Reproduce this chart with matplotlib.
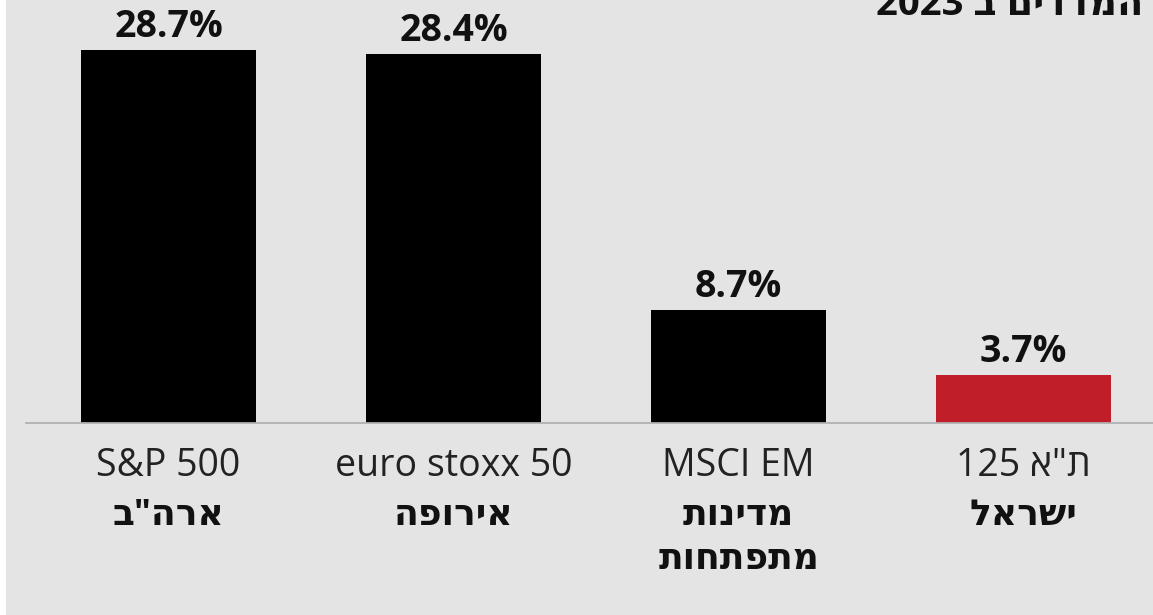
import re
import matplotlib.pyplot as plt
from matplotlib.patches import Rectangle

plt.rcParams['font.family'] = ['Open Sans', 'DejaVu Sans']

# data
index_names = ['S&P 500', 'euro stoxx 50', 'MSCI EM', 'ת"א 125']
regions = ['ארה"ב', 'אירופה', 'מדינות\nמתפתחות', 'ישראל']
returns = [28.7, 28.4, 8.7, 3.7]
bar_colors = ['#000000', '#000000', '#000000', '#c01f2a']
title = 'המדדים ב 2023'


def visual(s):
    # matplotlib draws left to right, so flip the hebrew by hand
    if not re.search('[\u0590-\u05ff]', s):
        return s
    out = []
    for line in s.split('\n'):
        parts = re.split(r'([0-9A-Za-z&]+)', line)
        parts = [p if re.fullmatch(r'[0-9A-Za-z&]+', p) else p[::-1] for p in parts if p]
        out.append(''.join(parts[::-1]))
    return '\n'.join(out)


fig = plt.figure(figsize=(11.53, 6.15), dpi=100, facecolor='white')
fig.patches.append(Rectangle((6 / 1153, 0), 1, 1, transform=fig.transFigure,
                             facecolor='#e4e4e4', edgecolor='none', zorder=-10))

ax = fig.add_axes([26 / 1153, 192 / 615, 1 - 26 / 1153, 423 / 615])
ax.set_facecolor('none')
ax.set_zorder(1)

x = list(range(len(returns)))
bars = ax.bar(x, returns, width=0.614, color=bar_colors, zorder=2)
ax.set_xlim(-0.5, 3.454)
ax.set_ylim(0, 32.54)

for s in ['top', 'left', 'right']:
    ax.spines[s].set_visible(False)
ax.spines['bottom'].set_color('#b0b0b0')
ax.spines['bottom'].set_linewidth(1.3)
ax.set_xticks([])
ax.set_yticks([])

for xi, v in zip(x, returns):
    ax.annotate(f'{v}%', (xi, v), xytext=(0, 9.5), textcoords='offset points',
                ha='center', va='baseline', fontsize=27, fontweight='bold',
                color='#111111')

for xi, name, reg in zip(x, index_names, regions):
    ax.annotate(visual(name), (xi, 0), xytext=(0, -31), textcoords='offset points',
                ha='center', va='center', fontsize=27, color='#222222',
                annotation_clip=False)
    ax.annotate(visual(reg), (xi, 0), xytext=(0, -54), textcoords='offset points',
                ha='center', va='top', fontsize=26, fontweight='bold',
                color='#111111', linespacing=1.3, annotation_clip=False)

fig.text(1143 / 1153, 1 - 15 / 615, visual(title), ha='right', va='baseline',
         fontsize=27.5, fontweight='bold', color='#111111', zorder=2)

fig.savefig('out.png', dpi=100, facecolor=fig.get_facecolor())
